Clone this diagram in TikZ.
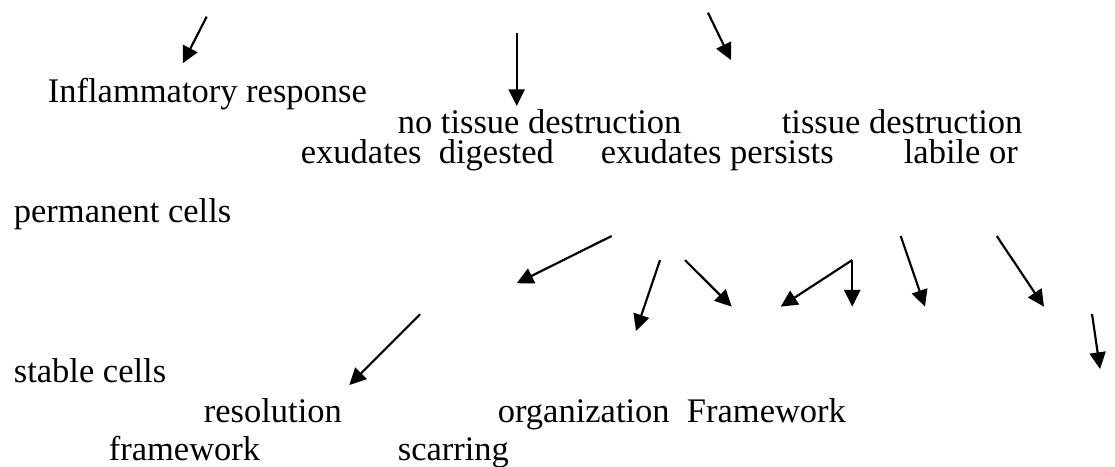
\documentclass[tikz,border=0pt]{standalone}
\usepackage{fontspec}
\setmainfont{Liberation Serif}
\usetikzlibrary{positioning}
\usetikzlibrary{arrows.meta}

\begin{document}
\begin{tikzpicture}[auto, semithick,
txt/.style ={anchor=base west, inner sep=0pt, font=\fontsize{12pt}{14pt}\selectfont},
link/.style = {-{Triangle[length=5.8pt,width=5.6pt]}, line width=0.75pt}]

\useasboundingbox (0,0) rectangle (13.631,-5.697);

\node[txt] (Inflam) at (0.575,-1.259) {Inflammatory response};
\node[txt] (NoDestr) at (4.853,-1.626) {no tissue destruction};
\node[txt] (Destr) at (9.548,-1.626) {tissue destruction};
\node[txt] (ExDig) at (3.668,-1.993) {exudates\ \ digested};
\node[txt] (ExPers) at (7.335,-1.993) {exudates persists};
\node[txt] (Labile) at (11.039,-1.993) {labile or};
\node[txt] (Perm) at (0.159,-2.714) {permanent cells};

\node[txt] (Stable) at (0.159,-4.670) {stable cells};
\node[txt] (Resol) at (2.482,-5.159) {resolution};
\node[txt] (Organ) at (6.076,-5.159) {organization\ \ Framework};
\node[txt] (Frame) at (1.320,-5.624) {framework};
\node[txt] (Scar) at (4.853,-5.624) {scarring};

% tails
\coordinate (T_1) at (2.527,-0.204);
\coordinate (T_2) at (6.317,-0.403);
\coordinate (T_3) at (8.655,-0.155);
\coordinate (T_4) at (7.478,-2.885);
\coordinate (T_5) at (5.135,-3.842);
\coordinate (T_6) at (8.069,-3.179);
\coordinate (T_7) at (8.374,-3.179);
\coordinate (T_8) at (10.419,-3.179);
\coordinate (T_9) at (11.011,-2.885);
\coordinate (T_10) at (12.185,-2.885);
\coordinate (T_11) at (13.350,-3.839);

% heads
\coordinate (H_1) at (2.234,-0.774);
\coordinate (H_2) at (6.317,-1.296);
\coordinate (H_3) at (8.936,-0.734);
\coordinate (H_4) at (6.317,-3.463);
\coordinate (H_5) at (4.270,-4.707);
\coordinate (H_6) at (7.775,-4.047);
\coordinate (H_7) at (8.945,-3.749);
\coordinate (H_8) at (9.544,-3.749);
\coordinate (H_8b) at (10.419,-3.749);
\coordinate (H_9) at (11.308,-3.749);
\coordinate (H_10) at (12.763,-3.749);
\coordinate (H_11) at (13.448,-4.511);

\draw[link]  (T_1) -- (H_1);
\draw[link]  (T_2) -- (H_2);
\draw[link]  (T_3) -- (H_3);

\draw[link]  (T_4) -- (H_4);
\draw[link]  (T_5) -- (H_5);
\draw[link]  (T_6) -- (H_6);
\draw[link]  (T_7) -- (H_7);
\draw[link]  (T_8) -- (H_8);
\draw[link]  (T_8) -- (H_8b);
\draw[link]  (T_9) -- (H_9);
\draw[link]  (T_10) -- (H_10);
\draw[link]  (T_11) -- (H_11);

\end{tikzpicture}
\end{document}
